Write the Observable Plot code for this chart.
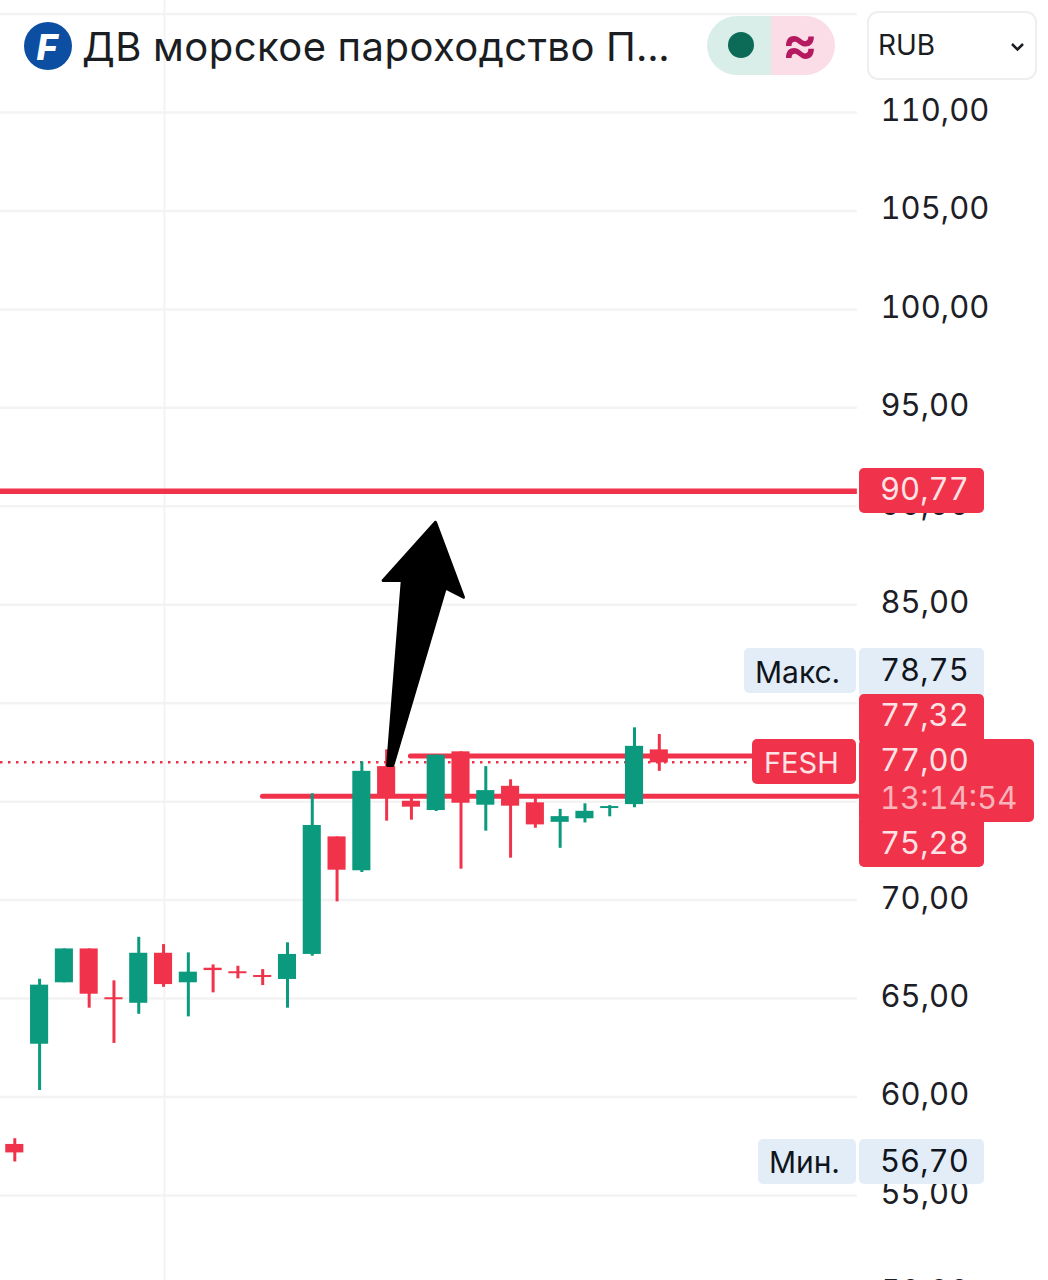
<!DOCTYPE html>
<html><head><meta charset="utf-8">
<script src="https://cdn.jsdelivr.net/npm/d3@7"></script>
<script src="https://cdn.jsdelivr.net/npm/@observablehq/plot@0.6"></script>
<style>html,body{margin:0;padding:0;background:#fff;overflow:hidden}svg{display:block}</style>
</head><body><div id="chart"></div>
<script>
const opens  = [57.59,62.68,65.80,67.52,65.04,64.76,67.30,65.80,66.54,66.36,66.17,65.97,67.24,73.21,71.49,76.78,75.02,74.55,77.53,74.82,75.78,74.94,73.95,74.13,74.65,74.85,77.63];
const closes = [57.16,65.68,67.52,65.22,64.94,67.30,65.71,66.34,66.42,66.26,66.07,67.24,73.79,71.52,76.54,75.21,74.72,77.36,74.92,75.56,74.77,73.82,74.24,74.51,74.75,77.81,76.97];
const highs  = [57.88,65.98,67.52,67.52,65.90,68.11,67.74,67.32,66.71,66.64,66.47,67.83,75.40,73.21,77.02,77.63,75.26,77.36,77.53,76.78,76.11,75.19,74.61,74.89,74.80,78.75,78.41];
const lows   = [56.70,60.33,65.80,64.51,62.72,64.20,65.57,64.07,65.29,66.00,65.66,64.51,67.15,69.91,71.40,74.01,74.06,74.50,71.57,73.50,72.13,73.65,72.63,73.92,74.23,74.69,76.54];
const gridLevels = [50,55,60,65,70,75,80,85,90,95,100,105,110,115];
const tickLevels = [50,55,60,65,70,75,80,85,90,95,100,105,110];
const target = 90.77, resistance = 77.32, support = 75.28, lastPrice = 77.00;
const arrowX = [16.97,14.86,15.63,15.04,15.25,17.37,18.10];
const arrowY = [89.19,86.23,86.23,76.84,76.84,85.86,85.38];

const RED = "#f0334a", GREEN = "#0b9a7e", GRID = "#f3f3f3";
const FONT = "Inter, 'Liberation Sans', sans-serif";
const fmt = d => d.toFixed(2).replace(".", ",");
const candles = opens.map((o,i)=>({i,o,c:closes[i],h:highs[i],l:lows[i],col:closes[i]>=o?GREEN:RED}));
const arrow = arrowX.map((x,k)=>({x,y:arrowY[k]}));
const LEFT = -0.577, RIGHT = 41.70, END = 33.99;

function overlay(){
  const g = d3.create("svg:g").attr("font-family",FONT).attr("text-anchor","start");
  const box=(x,y,w,h,fill,r=5)=>g.append("rect").attr("x",x).attr("y",y).attr("width",w).attr("height",h).attr("rx",r).attr("fill",fill);
  const txt=(s,x,y,fill,size=31)=>g.append("text").text(s).attr("x",x).attr("y",y).attr("fill",fill).attr("font-size",size)
     .attr("style","font-variant-numeric:tabular-nums").attr("dominant-baseline","central");
  // value tags
  box(859,468,125,45,RED); txt(fmt(target),880,488,"#fde3e6");
  box(744,648,112,45,"#e3edf8"); txt("Макс.",755,672,"#10151c",30);
  box(859,648,125,50,"#e3edf8"); txt(fmt(highs[25]),880,669,"#10151c");
  box(859,694,125,50,RED); txt(fmt(resistance),880,714,"#fde3e6");
  box(752,739,104,45,RED); txt("FESH",764,762,"#fde3e6",29);
  box(859,739,175,83,RED); txt(fmt(lastPrice),880,759,"#fde3e6"); txt("13:14:54",880,797,"#f9b3bb");
  box(859,815,125,52,RED); txt(fmt(support),880,842,"#fde3e6");
  box(758,1139,98,45,"#e3edf8"); txt("Мин.",769,1162,"#10151c",30);
  box(859,1139,125,45,"#e3edf8"); txt(fmt(lows[0]),880,1160,"#10151c");
  // header
  g.append("circle").attr("cx",48).attr("cy",46).attr("r",24).attr("fill","#0b4ea2");
  g.append("text").text("F").attr("x",47).attr("y",47).attr("text-anchor","middle").attr("dominant-baseline","central")
    .attr("fill","#fff").attr("font-size",36).attr("font-weight",800).attr("font-style","italic");
  txt("ДВ морское пароходство П...",82,46,"#1a1d22",40).attr("letter-spacing",0.45);
  g.append("path").attr("d","M771 16H737a30 29.5 0 0 0 0 59H771Z").attr("fill","#d9eee9");
  g.append("path").attr("d","M771 16H805a30 29.5 0 0 1 0 59H771Z").attr("fill","#fbdde7");
  g.append("circle").attr("cx",741).attr("cy",45).attr("r",13).attr("fill","#0b6b57");
  g.append("text").text("≈").attr("x",800).attr("y",43).attr("text-anchor","middle").attr("dominant-baseline","central")
    .attr("fill","#b5195f").attr("font-size",54).attr("font-weight",600);
  g.append("rect").attr("x",868).attr("y",12).attr("width",168).attr("height",67).attr("rx",10).attr("fill","#fff").attr("stroke","#eeeeee").attr("stroke-width",2);
  txt("RUB",878,45,"#1a1d22",28);
  g.append("path").attr("d","M1012 44l5.5 5.5l5.5 -5.5").attr("fill","none").attr("stroke","#1a1d22").attr("stroke-width",2.5);
  return g.node();
}

const chart = Plot.plot({
  width:1048, height:1280, margin:0, style:{background:"#fff",fontFamily:FONT},
  x:{domain:[LEFT,RIGHT],axis:null}, y:{domain:[50.68,115.69],axis:null},
  marks:[
    Plot.ruleY(gridLevels,{x1:LEFT,x2:END,stroke:GRID,strokeWidth:2.5}),
    Plot.ruleX([6.04],{stroke:GRID,strokeWidth:2}),
    Plot.axisY(tickLevels,{anchor:"right",tickSize:0,tickPadding:0,dx:-168,dy:-1.5,textAnchor:"start",tickFormat:fmt,fontSize:31,fill:"#1c2026",label:null,
      style:"font-variant-numeric:tabular-nums"}),
    Plot.ruleY([target],{x1:LEFT,x2:END,stroke:RED,strokeWidth:5.5}),
    Plot.ruleY([resistance],{x1:15.98,x2:29.76,stroke:RED,strokeWidth:5,strokeLinecap:"round"}),
    Plot.ruleY([support],{x1:10.01,x2:END,stroke:RED,strokeWidth:5,strokeLinecap:"round"}),
    Plot.ruleY([lastPrice],{x1:LEFT,x2:29.76,stroke:RED,strokeWidth:2.5,strokeDasharray:"2.5 5.5"}),
    Plot.ruleX(candles,{x:"i",y1:"l",y2:"h",stroke:"col",strokeWidth:3}),
    Plot.rect(candles,{x1:d=>d.i-0.365,x2:d=>d.i+0.365,y1:"o",y2:"c",fill:"col"}),
    Plot.line(arrow,{x:"x",y:"y",fill:"#000",stroke:"#000",strokeWidth:3,strokeLinejoin:"round",curve:"linear-closed"}),
    overlay
  ]
});
document.getElementById("chart").append(chart);
</script></body></html>
